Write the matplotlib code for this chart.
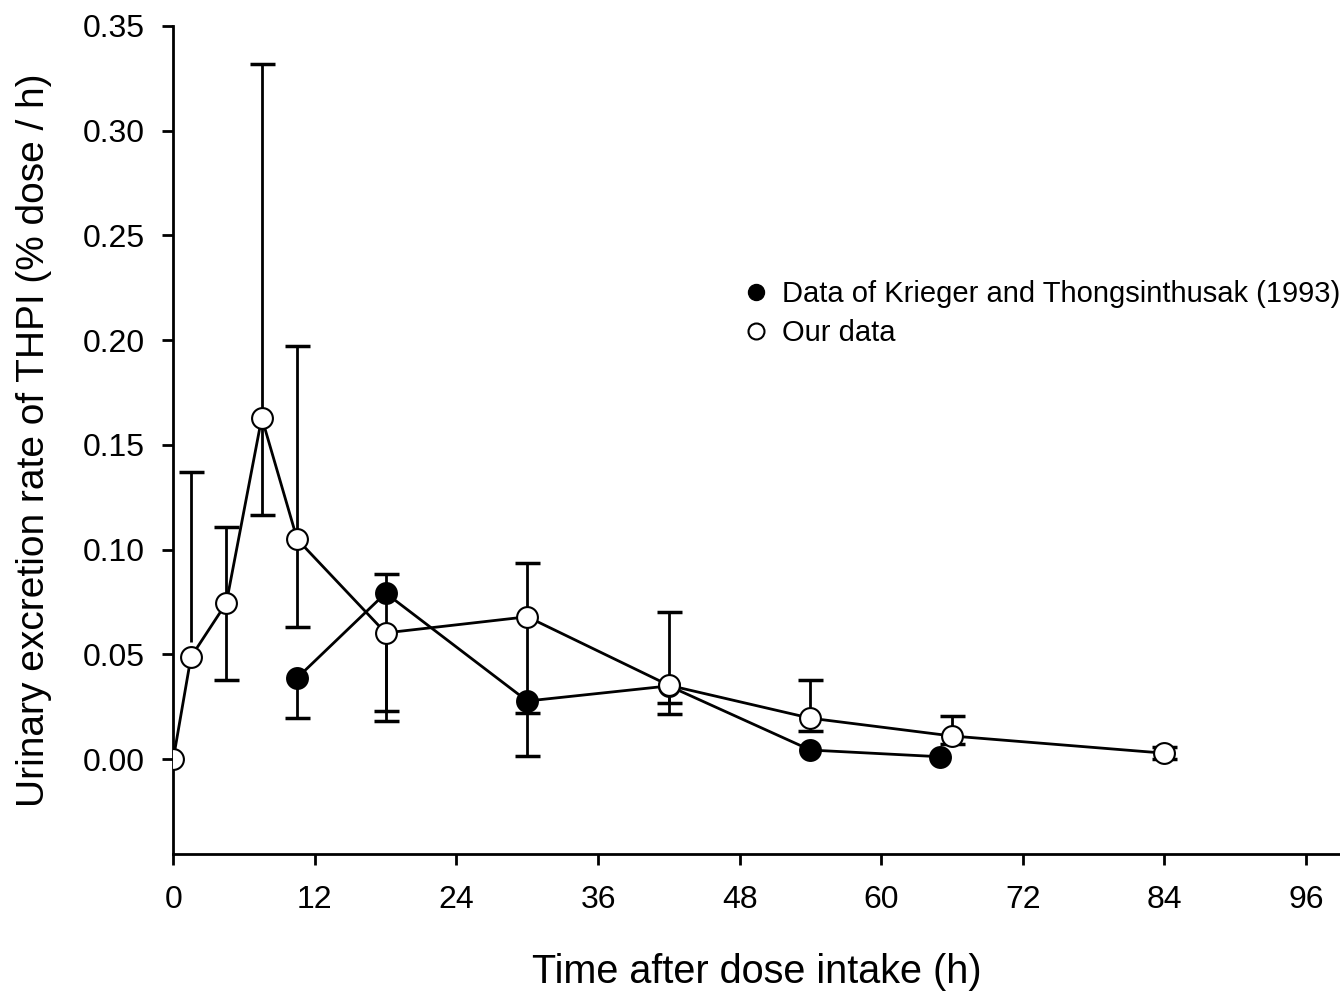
import numpy as np
import matplotlib.pyplot as plt
from matplotlib.lines import Line2D

plt.rcParams['font.family'] = ['Liberation Sans', 'DejaVu Sans']

# Our data (open circles)
our_time = [0, 1.5, 4.5, 7.5, 10.5, 18, 30, 42, 54, 66, 84]
our_rate = [0.0, 0.0488, 0.0746, 0.163, 0.105, 0.0603, 0.068, 0.0353, 0.0196, 0.0111, 0.0029]
our_hi = [np.nan, 0.137, 0.111, 0.332, 0.197, np.nan, 0.0938, 0.0704, 0.0378, 0.0208, 0.0057]
our_lo = [np.nan, 0.056, 0.0378, 0.1166, 0.0633, 0.0184, 0.0222, 0.027, 0.0135, 0.0073, 0.0]

# Krieger and Thongsinthusak (1993) (filled circles)
kt_time = [10.5, 18, 30, 42, 54, 65]
kt_rate = [0.0388, 0.0793, 0.0278, 0.035, 0.0044, 0.0012]
kt_hi = [np.nan, 0.0884, np.nan, np.nan, np.nan, np.nan]
kt_lo = [0.0198, 0.0232, 0.0017, 0.0215, np.nan, np.nan]

x_ticks = [0, 12, 24, 36, 48, 60, 72, 84, 96]
y_ticks = [0.0, 0.05, 0.10, 0.15, 0.20, 0.25, 0.30, 0.35]


def draw_bars(ax, t, y, lo, hi):
    t = np.asarray(t, float)
    y = np.asarray(y, float)
    lo = np.where(np.isnan(lo), y, lo)
    hi = np.where(np.isnan(hi), y, hi)
    ax.vlines(t, lo, hi, color='black', lw=2, zorder=1)
    # caps only where a bar end exists
    ax.plot(t, np.where(lo < y, lo, np.nan), ls='none', marker='_', ms=18,
            mew=2.5, color='black', zorder=1)
    ax.plot(t, np.where(hi > y, hi, np.nan), ls='none', marker='_', ms=18,
            mew=2.5, color='black', zorder=1)


fig = plt.figure(figsize=(13.4, 9.93), dpi=100)
ax = fig.add_axes([0.1293, 0.140, 0.8707, 0.834])

draw_bars(ax, kt_time, kt_rate, kt_lo, kt_hi)
draw_bars(ax, our_time, our_rate, our_lo, our_hi)

ax.plot(kt_time, kt_rate, '-', color='black', lw=2, marker='o', ms=15,
        mfc='black', mec='black', mew=1.5, zorder=2)
ax.plot(our_time, our_rate, '-', color='black', lw=2, marker='o', ms=15,
        mfc='white', mec='black', mew=1.5, zorder=3)

ax.set_xlim(0, 98.88)
ax.set_ylim(-0.0452, 0.35)
ax.set_xticks(x_ticks)
ax.set_yticks(y_ticks)
ax.set_yticklabels([f'{v:.2f}' for v in y_ticks])
ax.tick_params(direction='out', length=8, width=2, labelsize=23)
ax.tick_params(axis='y', pad=12.5)
ax.tick_params(axis='x', pad=14)
for side in ['top', 'right']:
    ax.spines[side].set_visible(False)
for side in ['left', 'bottom']:
    ax.spines[side].set_linewidth(2)

ax.set_xlabel('Time after dose intake (h)', fontsize=28.5)
ax.set_ylabel('Urinary excretion rate of THPI (% dose / h)', fontsize=28)
ax.xaxis.set_label_coords(0.5, -0.12)
ax.yaxis.set_label_coords(-0.104, 0.5)

handles = [
    Line2D([], [], ls='none', marker='o', ms=11.5, mfc='black', mec='black'),
    Line2D([], [], ls='none', marker='o', ms=11.5, mfc='white', mec='black', mew=1.5),
]
labels = ['Data of Krieger and Thongsinthusak (1993)', 'Our data']
fig.legend(handles, labels, loc='upper left', bbox_to_anchor=(0.5534, 0.718),
           frameon=False, fontsize=21, handletextpad=0.4, labelspacing=0.38,
           borderpad=0, borderaxespad=0, handlelength=1.0)

fig.savefig('out.png', dpi=100)
